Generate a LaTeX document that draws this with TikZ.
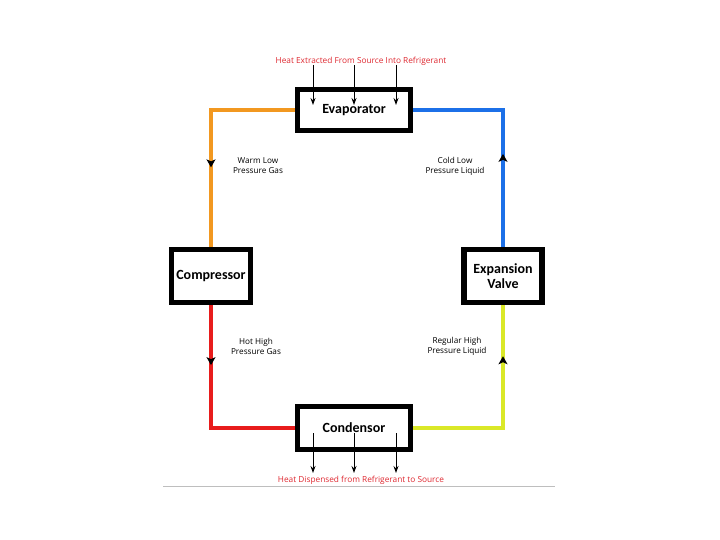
\documentclass[tikz,border=0pt]{standalone}
\usepackage{fontspec}
\setmainfont{Open Sans}
\newfontfamily\boxfont{Carlito}
\usetikzlibrary{arrows.meta,decorations.markings}

\definecolor{warmorange}{RGB}{242,152,32}
\definecolor{coldblue}{RGB}{28,112,232}
\definecolor{hotred}{RGB}{232,28,28}
\definecolor{regyellow}{RGB}{218,232,40}
\definecolor{heatred}{RGB}{222,40,48}
\definecolor{rulegray}{RGB}{190,190,190}

\begin{document}
\begin{tikzpicture}[x=1pt, y=-1pt, >={Stealth[length=7pt,width=5pt]},
    unit/.style={draw, line width=5.5pt, fill=white, inner sep=2pt, align=center,
        font=\boxfont\fontsize{14}{15.5}\selectfont\bfseries},
    pipe/.style={line width=3.5pt},
    flowarrow/.style={postaction={decorate}, decoration={markings,
        mark=at position #1 with {\arrow{Stealth[length=8pt,width=9pt,inset=2pt,color=black]}}}},
    heat/.style={->, line width=1pt},
    heatlabel/.style={text=heatred, font=\fontsize{8.3}{10}\selectfont},
    statelabel/.style={align=center, font=\fontsize{8.2}{10}\selectfont}]
    \useasboundingbox (0,0) rectangle (720,540);

    % the four units
    \node[unit, minimum width=113pt, minimum height=41pt] (evap) at (354,110) {Evaporator};
    \node[unit, minimum width=79pt, minimum height=53pt] (comp) at (211,276) {Compressor};
    \node[unit, minimum width=78pt, minimum height=53pt] (valve) at (503,276) {Expansion\\Valve};
    \node[unit, minimum width=113pt, minimum height=43pt] (cond) at (354,428) {Condensor};

    % refrigerant loop
    \draw[pipe, warmorange, flowarrow=0.64] (evap.west) -| (comp.north);
    \draw[pipe, hotred, flowarrow=0.29] (comp.south) |- (cond.west);
    \draw[pipe, regyellow, flowarrow=0.76] (cond.east) -| (valve.south);
    \draw[pipe, coldblue, flowarrow=0.41] (valve.north) |- (evap.east);

    % state labels
    \node[statelabel] (warm) at (258,166) {Warm Low\\Pressure Gas};
    \node[statelabel] (cold) at (455,166) {Cold Low\\Pressure Liquid};
    \node[statelabel] (hot) at (256,346) {Hot High\\Pressure Gas};
    \node[statelabel] (regular) at (457,346) {Regular High\\Pressure Liquid};

    % heat in and out
    \node[heatlabel] (heatin) at (361,61) {Heat Extracted From Source Into Refrigerant};
    \node[heatlabel] (heatout) at (361,480) {Heat Dispensed from Refrigerant to Source};
    \foreach \x in {313,354,396} {
        \draw[heat] (\x,65) -- (\x,105);
        \draw[heat] (\x,433) -- (\x,473);
    }

    \draw[rulegray, line width=0.8pt] (163,486) -- (555,486);
\end{tikzpicture}
\end{document}
